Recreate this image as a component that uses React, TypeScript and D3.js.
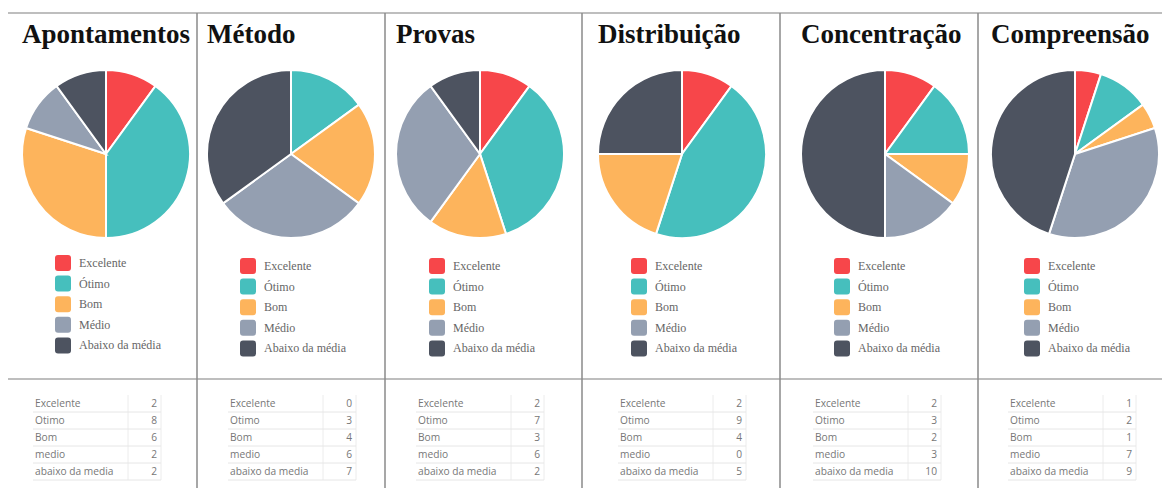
import React from "react";
import * as d3 from "d3";

const titles = ["Apontamentos", "Método", "Provas", "Distribuição", "Concentração", "Compreensão"];
const categories = ["Excelente", "Ótimo", "Bom", "Médio", "Abaixo da média"];
const tableLabels = ["Excelente", "Otimo", "Bom", "medio", "abaixo da media"];
const apontamentos = [2, 8, 6, 2, 2];
const metodo = [0, 3, 4, 6, 7];
const provas = [2, 7, 3, 6, 2];
const distribuicao = [2, 9, 4, 0, 5];
const concentracao = [2, 3, 2, 3, 10];
const compreensao = [1, 2, 1, 7, 9];
const seriesList = [apontamentos, metodo, provas, distribuicao, concentracao, compreensao];
const colors = ["#F7464A", "#46BFBD", "#FDB45C", "#949FB1", "#4D5360"];

// layout
const W = 1162;
const H = 488;
const dividers = [197, 385, 582, 780, 978];
const pieCx = [106, 291, 480, 682, 885, 1075];
const tableX = [35, 230, 418, 620, 815, 1010];
const legendY = [263, 266, 266, 266, 266, 266];
const pieCy = 154;
const R = 84;

export default function App() {
  const pie = d3.pie<number>().sort(null).value((d) => d);
  const arc = d3.arc<d3.PieArcDatum<number>>().innerRadius(0).outerRadius(R);
  const rowY = d3.scaleBand<number>().domain(d3.range(5)).range([395, 480]);

  return (
    <svg width={W} height={H} style={{ position: "absolute", left: 0, top: 0, background: "#fff" }}>
      <line x1={8} x2={W} y1={13} y2={13} stroke="#a8a8a8" strokeWidth={1.5} />
      <line x1={8} x2={W} y1={379} y2={379} stroke="#a8a8a8" strokeWidth={1.5} />
      {dividers.map((x, i) => (
        <line key={i} x1={x} x2={x} y1={13} y2={H} stroke="#8a8a8a" strokeWidth={1.5} />
      ))}
      {seriesList.map((values, p) => {
        const cx = pieCx[p];
        const tx = tableX[p];
        const tw = 126;
        return (
          <g key={p}>
            <text
              x={cx - R}
              y={43}
              fontFamily="'Liberation Serif', 'Times New Roman', serif"
              fontWeight="bold"
              fontSize={27}
              fill="#111"
            >
              {titles[p]}
            </text>
            <g transform={`translate(${cx},${pieCy})`}>
              {pie(values).map((a, i) =>
                a.value > 0 ? (
                  <path key={i} d={arc(a) || ""} fill={colors[i]} stroke="#fff" strokeWidth={2} />
                ) : null
              )}
            </g>
            {categories.map((c, i) => {
              const y = legendY[p] + i * 20.6;
              return (
                <g key={c}>
                  <rect x={cx - 51} y={y - 8} width={16} height={16} rx={3} fill={colors[i]} />
                  <text
                    x={cx - 27}
                    y={y + 4}
                    fontFamily="'Liberation Serif', 'Times New Roman', serif"
                    fontSize={12}
                    fill="#666"
                  >
                    {c}
                  </text>
                </g>
              );
            })}
            <g>
              <line x1={tx + 93} x2={tx + 93} y1={395} y2={480} stroke="#ececec" />
              <line x1={tx + tw} x2={tx + tw} y1={395} y2={480} stroke="#ececec" />
              {tableLabels.map((l, i) => {
                const y0 = rowY(i) as number;
                const bh = rowY.bandwidth();
                return (
                  <g key={l}>
                    <line x1={tx - 2} x2={tx + tw} y1={y0 + bh} y2={y0 + bh} stroke="#e6e6e6" />
                    <text
                      x={tx}
                      y={y0 + bh / 2 + 3.5}
                      fontFamily="'Open Sans', 'Liberation Sans', sans-serif"
                      fontSize={10.2}
                      fill="#777"
                    >
                      {l}
                    </text>
                    <text
                      x={tx + tw - 4}
                      y={y0 + bh / 2 + 3.5}
                      textAnchor="end"
                      fontFamily="'Open Sans', 'Liberation Sans', sans-serif"
                      fontSize={10.2}
                      fill="#777"
                    >
                      {values[i]}
                    </text>
                  </g>
                );
              })}
            </g>
          </g>
        );
      })}
    </svg>
  );
}
